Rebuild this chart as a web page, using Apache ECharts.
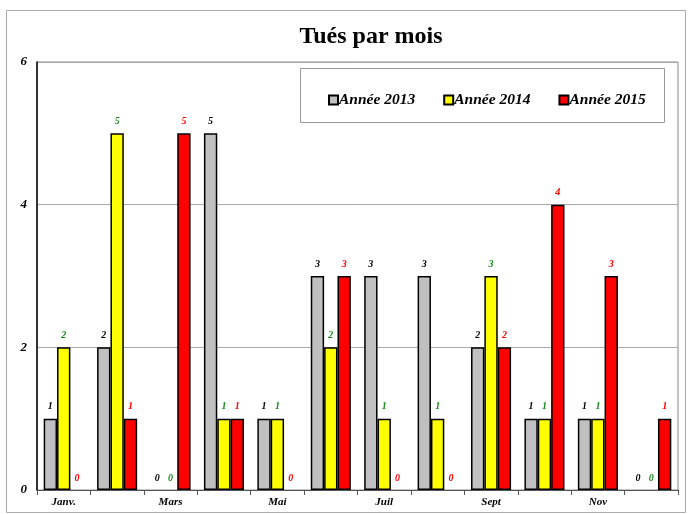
<!DOCTYPE html>
<html>
<head>
<meta charset="utf-8">
<script src="https://cdn.jsdelivr.net/npm/echarts@6/dist/echarts.min.js"></script>
<style>html,body{margin:0;padding:0;background:#fff;}#c{width:688px;height:514px;}</style>
</head>
<body>
<div id="c"></div>
<script>
var months = ['Janv.', 'Févr.', 'Mars', 'Avr.', 'Mai', 'Juin', 'Juil', 'Août', 'Sept', 'Oct.', 'Nov', 'Déc.'];
var y2013 = [1, 2, 0, 5, 1, 3, 3, 3, 2, 1, 1, 0];
var y2014 = [2, 5, 0, 1, 1, 2, 1, 1, 3, 1, 1, 0];
var y2015 = [0, 1, 5, 1, 0, 3, 0, 0, 2, 4, 3, 1];
var seriesNames = ['Année 2013', 'Année 2014', 'Année 2015'];
var yTicks = [0, 2, 4, 6];

var FONT = '"Liberation Serif", "Times New Roman", serif';
var chart = echarts.init(document.getElementById('c'));
function mk(name, data, fill, lblColor) {
  return {
    name: name, type: 'bar',
    data: data.map(function (v) { return v === 0 ? {value: v, itemStyle: {borderWidth: 0}} : v; }),
    barGap: '0%', barCategoryGap: '25%',
    itemStyle: {color: fill, borderColor: '#000', borderWidth: 1.5},
    label: {show: true, position: 'top', distance: 7, color: lblColor,
      fontFamily: FONT, fontStyle: 'italic', fontWeight: 'bold', fontSize: 10},
    emphasis: {disabled: true}
  };
}
chart.setOption({
  animation: false,
  backgroundColor: '#fff',
  title: {text: 'Tués par mois', left: 366, textAlign: 'center', top: 20,
    textStyle: {fontFamily: FONT, fontWeight: 'bold', fontSize: 24, color: '#000'}},
  graphic: [
    {type: 'rect', shape: {x: 6.5, y: 10.5, width: 679, height: 502}, style: {fill: null, stroke: '#aaa', lineWidth: 1}, z: -10},
    {type: 'rect', shape: {x: 300.5, y: 68.5, width: 364, height: 54}, style: {fill: '#fff', stroke: '#999', lineWidth: 1}, z: 10}
  ],
  legend: {
    data: seriesNames, left: 323, top: 87, itemWidth: 9, itemHeight: 9, itemGap: 28, z: 20, icon: 'rect',
    textStyle: {fontFamily: FONT, fontStyle: 'italic', fontWeight: 'bold', fontSize: 15.5, color: '#000', padding: [0,0,0,-4]}
  },
  grid: {left: 37, right: 10, top: 62, bottom: 24, show: true, borderColor: '#888', borderWidth: 1, containLabel: false},
  xAxis: {
    type: 'category', data: months,
    axisLine: {lineStyle: {color: '#555', width: 1}},
    axisTick: {show: true, interval: 0, length: 5, lineStyle: {color: '#555'}},
    axisLabel: {interval: 1, margin: 7, color: '#000', fontFamily: FONT, fontStyle: 'italic', fontWeight: 'bold', fontSize: 11}
  },
  yAxis: {
    type: 'value', min: yTicks[0], max: yTicks[yTicks.length - 1], interval: 2,
    axisLine: {show: true, lineStyle: {color: '#000', width: 1.5}},
    axisTick: {show: false},
    splitLine: {lineStyle: {color: '#aaa', width: 1}},
    axisLabel: {margin: 10, color: '#000', fontFamily: FONT, fontStyle: 'italic', fontWeight: 'bold', fontSize: 13}
  },
  series: [
    mk(seriesNames[0], y2013, '#c0c0c0', '#000'),
    mk(seriesNames[1], y2014, '#ffff00', '#1a8c1a'),
    mk(seriesNames[2], y2015, '#ff0000', '#ff0000')
  ]
});
</script>
</body>
</html>
